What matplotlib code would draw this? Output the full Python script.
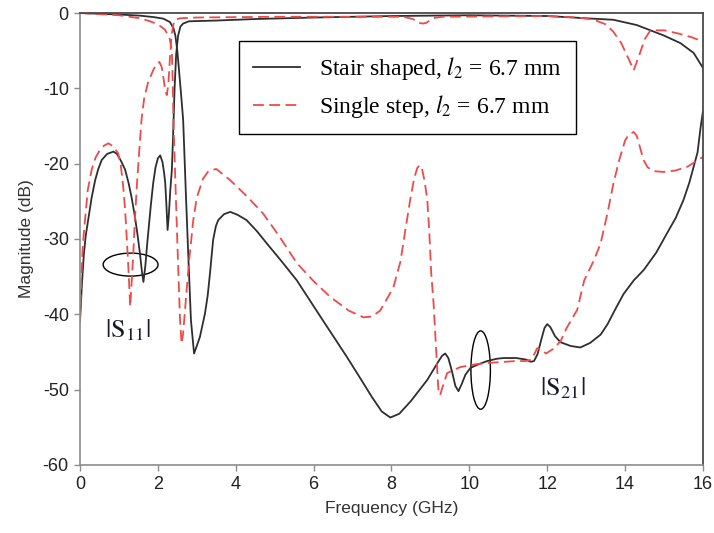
import numpy as np
import matplotlib
matplotlib.use('Agg')
import matplotlib.pyplot as plt
from matplotlib.patches import Ellipse

plt.rcParams['font.family'] = ['Liberation Sans', 'DejaVu Sans']
plt.rcParams['mathtext.fontset'] = 'stix'
plt.rcParams['axes.unicode_minus'] = False

# stair shaped, l2 = 6.7 mm : S21 (passband -> stopband)
f_s21_stair = [0, 0.5, 1.0, 1.54, 1.9, 2.14, 2.31, 2.4, 2.45, 2.5, 2.55, 2.6, 2.65, 2.72, 2.78,
               2.85, 2.93, 3.0, 3.08, 3.21, 3.28, 3.34, 3.42, 3.49, 3.55, 3.7, 3.86, 4.05, 4.28,
               4.55, 4.8, 5.2, 5.57, 6.2, 6.86, 7.2, 7.5, 7.75, 7.97, 8.2, 8.5, 8.92, 9.2, 9.3,
               9.38, 9.46, 9.55, 9.64, 9.72, 9.8, 9.9, 10.03, 10.25, 10.46, 10.7, 10.88, 11.2,
               11.45, 11.58, 11.66, 11.75, 11.85, 11.93, 12.0, 12.08, 12.2, 12.34, 12.6, 12.85,
               13.1, 13.37, 13.55, 13.75, 13.96, 14.22, 14.48, 14.8, 15.08, 15.3, 15.5, 15.65,
               15.76, 15.86, 15.94, 16.0]
db_s21_stair = [0, -0.1, -0.2, -0.35, -0.55, -0.75, -1.2, -2.0, -3.0, -5.0, -8.0, -11.0, -14.2,
                -24.0, -32.0, -40.8, -45.2, -44.2, -43.0, -39.9, -37.5, -34.5, -30.1, -28.3,
                -27.5, -26.7, -26.4, -26.8, -27.5, -29.0, -30.6, -33.1, -35.5, -40.5, -45.7,
                -48.5, -51.0, -52.9, -53.7, -53.2, -51.5, -48.7, -46.3, -45.5, -45.2, -45.8,
                -47.5, -49.5, -50.2, -49.3, -48.0, -47.1, -46.6, -46.2, -45.9, -45.8, -45.8,
                -46.0, -46.3, -46.2, -45.3, -43.3, -41.8, -41.3, -41.7, -42.9, -43.7, -44.2,
                -44.4, -43.8, -42.7, -41.3, -39.3, -37.3, -35.5, -34.1, -31.8, -29.2, -27.2,
                -24.8, -22.5, -20.4, -18.5, -15.1, -13.0]

# stair shaped, l2 = 6.7 mm : S11
f_s11_stair = [0, 0.05, 0.1, 0.15, 0.21, 0.3, 0.39, 0.47, 0.56, 0.7, 0.86, 0.95, 1.05, 1.16,
               1.25, 1.33, 1.41, 1.48, 1.54, 1.59, 1.63, 1.68, 1.72, 1.76, 1.82, 1.88, 1.94,
               2.0, 2.06, 2.12, 2.16, 2.19, 2.22, 2.25, 2.28, 2.32, 2.36, 2.39, 2.43, 2.47,
               2.52, 2.58, 2.65, 2.8, 3.5, 4.5, 6.0, 8.0, 10.0, 12.0, 13.0, 13.7, 14.3, 14.65,
               15.0, 15.42, 15.76, 16.0]
db_s11_stair = [-41.0, -36.0, -32.0, -29.5, -27.5, -24.5, -22.2, -20.7, -19.5, -18.7, -18.4,
                -18.7, -19.6, -20.8, -22.6, -24.6, -27.0, -29.5, -31.9, -34.3, -35.7, -33.5,
                -31.0, -28.8, -25.5, -22.6, -20.5, -19.3, -18.9, -19.8, -21.2, -22.6, -25.5,
                -28.8, -27.0, -23.5, -20.8, -16.5, -10.0, -5.5, -3.0, -1.8, -1.4, -1.1, -1.0,
                -0.8, -0.6, -0.4, -0.3, -0.4, -0.7, -0.9, -1.6, -2.3, -3.0, -4.0, -5.3, -7.3]

# single step, l2 = 6.7 mm : S21
f_s21_single = [0, 0.5, 1.0, 1.54, 1.8, 2.0, 2.18, 2.3, 2.36, 2.38, 2.4, 2.46, 2.51, 2.57, 2.61,
                2.65, 2.72, 2.8, 2.91, 3.0, 3.16, 3.3, 3.5, 3.86, 4.3, 4.7, 5.1, 5.57, 6.0, 6.43,
                6.9, 7.28, 7.5, 7.71, 7.9, 8.05, 8.23, 8.35, 8.48, 8.58, 8.66, 8.72, 8.78, 8.85,
                8.92, 8.97, 9.02, 9.08, 9.15, 9.21, 9.25, 9.32, 9.43, 9.59, 9.77, 10.2, 10.63,
                11.2, 11.45, 11.6, 11.74, 11.85, 11.97, 12.15, 12.34, 12.5, 12.77, 12.95, 13.2,
                13.37, 13.55, 13.7, 13.85, 14.0, 14.1, 14.22, 14.3, 14.38, 14.47, 14.58, 14.75,
                14.99, 15.3, 15.6, 16.0]
db_s21_single = [0, -0.15, -0.3, -0.7, -1.1, -1.5, -2.2, -3.3, -5.0, -9.0, -14.2, -24.0, -31.9,
                 -40.8, -43.9, -42.5, -38.0, -33.0, -27.5, -24.5, -22.0, -21.0, -20.7, -22.2,
                 -24.4, -26.6, -29.5, -33.2, -35.6, -37.7, -39.5, -40.4, -40.3, -39.5, -37.8,
                 -36.4, -33.0, -29.0, -24.8, -22.0, -20.6, -20.2, -20.6, -22.3, -24.8, -29.0,
                 -34.5, -38.5, -45.0, -50.5, -50.7, -49.5, -47.8, -47.4, -47.0, -46.6, -46.4,
                 -46.2, -46.2, -46.0, -44.5, -44.7, -45.2, -44.6, -43.6, -41.8, -39.4, -35.5,
                 -32.8, -30.6, -26.5, -22.6, -19.5, -16.9, -16.1, -15.8, -16.3, -17.8, -19.5,
                 -20.5, -21.0, -21.1, -20.9, -20.4, -19.1]

# single step, l2 = 6.7 mm : S11
f_s11_single = [0, 0.03, 0.07, 0.13, 0.2, 0.3, 0.4, 0.51, 0.62, 0.73, 0.85, 0.98, 1.05, 1.11,
                1.16, 1.2, 1.25, 1.29, 1.33, 1.37, 1.41, 1.46, 1.52, 1.58, 1.65, 1.75, 1.88,
                1.96, 2.04, 2.1, 2.14, 2.19, 2.23, 2.27, 2.31, 2.35, 2.4, 2.44, 2.57, 3.0, 5.0,
                8.3, 8.55, 8.7, 8.8, 8.9, 9.05, 9.3, 12.0, 12.8, 13.2, 13.5, 13.7, 13.9, 14.1,
                14.22, 14.35, 14.5, 14.65, 15.0, 15.35, 15.7, 16.0]
db_s11_single = [-41.0, -36.0, -31.0, -27.5, -23.5, -20.8, -19.2, -18.2, -17.6, -17.3, -17.7,
                 -18.6, -20.3, -23.0, -26.2, -29.7, -34.5, -39.0, -35.5, -31.9, -27.5, -23.0,
                 -18.5, -14.2, -11.3, -9.2, -7.6, -6.8, -6.5, -7.2, -8.5, -10.3, -10.9, -9.5,
                 -6.0, -3.0, -1.5, -0.9, -0.7, -0.6, -0.5, -0.5, -0.8, -1.3, -1.4, -1.3, -0.7,
                 -0.5, -0.4, -0.6, -0.9, -1.5, -2.5, -4.0, -6.2, -7.6, -5.8, -3.5, -2.3, -2.3,
                 -2.7, -3.2, -3.8]

black = '#2e2e2e'
red = '#ef4a4a'

fig = plt.figure(figsize=(7.14, 5.33), dpi=100)
ax = fig.add_axes([0.112, 0.1276, 0.8726, 0.848])

l1, = ax.plot(f_s21_stair, db_s21_stair, color=black, lw=1.3)
ax.plot(f_s11_stair, db_s11_stair, color=black, lw=1.3)
l2, = ax.plot(f_s21_single, db_s21_single, color=red, lw=1.3, dashes=(6, 3))
ax.plot(f_s11_single, db_s11_single, color=red, lw=1.3, dashes=(6, 3))

ax.set_xlim(0, 16)
ax.set_ylim(-60, 0)
ax.set_xticks(np.arange(0, 17, 2))
ax.set_yticks(np.arange(-60, 1, 10))
ax.tick_params(direction='out', length=4, width=1, color='#8c8c8c',
               labelsize=13, labelcolor='#222222', pad=4)
for s in ['left', 'bottom']:
    ax.spines[s].set_color('#8c8c8c')
    ax.spines[s].set_linewidth(1.2)
for s in ['top', 'right']:
    ax.spines[s].set_color('#4a4a4a')
    ax.spines[s].set_linewidth(1.3)

ax.set_xlabel('Frequency (GHz)', fontsize=12.5, color='#333333', labelpad=6)
ax.set_ylabel('Magnitude (dB)', fontsize=12.5, color='#333333', labelpad=6)

leg = ax.legend([l1, l2],
                [r'Stair shaped, $l_2$ = 6.7 mm', r'Single step, $l_2$ = 6.7 mm'],
                loc='upper left', bbox_to_anchor=(0.255, 0.938), borderaxespad=0,
                prop={'family': 'Liberation Serif', 'size': 17},
                fancybox=False, framealpha=1, edgecolor='black',
                handlelength=2.0, handletextpad=0.8, borderpad=0.6, labelspacing=0.45)
leg.get_frame().set_linewidth(1.0)

ax.add_patch(Ellipse((1.3, -33.4), 1.41, 3.05, fill=False, edgecolor='black', lw=1))
ax.add_patch(Ellipse((10.29, -47.4), 0.5, 10.4, fill=False, edgecolor='black', lw=1))
ax.text(1.22, -42.1, r'$|\mathrm{S}_{11}|$', ha='center', va='center', fontsize=19, color='#1a1a2e')
ax.text(12.4, -49.8, r'$|\mathrm{S}_{21}|$', ha='center', va='center', fontsize=19, color='#1a1a2e')

fig.savefig('out.png', dpi=100)
